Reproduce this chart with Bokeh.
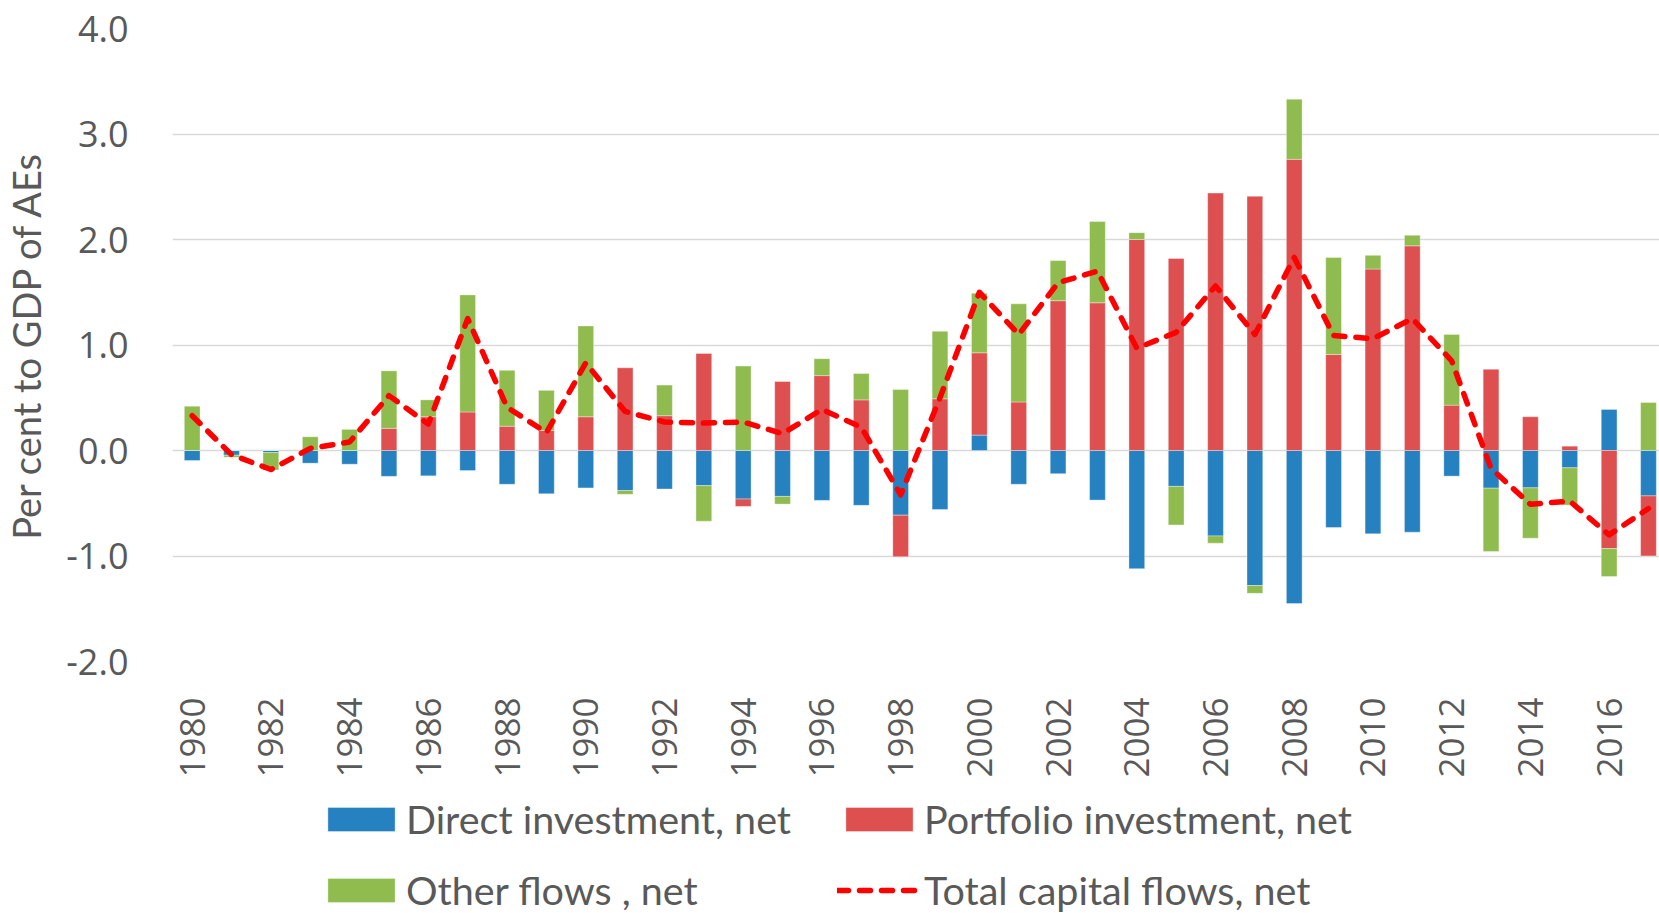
import math
from bokeh.plotting import figure
from bokeh.layouts import column
from bokeh.models import (ColumnDataSource, Range1d, FixedTicker, NumeralTickFormatter,
                          Legend, LegendItem)
from bokeh.embed import file_html
from bokeh.resources import INLINE

years = list(range(1980, 2018))
direct = [-0.095, -0.045, -0.02, -0.12, -0.13, -0.245, -0.24, -0.19, -0.32, -0.41,
          -0.355, -0.38, -0.365, -0.333, -0.46, -0.435, -0.473, -0.52, -0.613, -0.56,
          0.146, -0.32, -0.22, -0.47, -1.12, -0.34, -0.81, -1.28, -1.45, -0.73,
          -0.79, -0.774, -0.243, -0.357, -0.354, -0.164, 0.389, -0.43]
portfolio = [0.0, 0.0, 0.0, 0.0, 0.0, 0.21, 0.32, 0.365, 0.23, 0.19,
             0.32, 0.784, 0.33, 0.92, -0.07, 0.654, 0.71, 0.48, -0.394, 0.49,
             0.78, 0.46, 1.42, 1.40, 2.00, 1.82, 2.44, 2.41, 2.76, 0.91,
             1.72, 1.94, 0.43, 0.77, 0.32, 0.041, -0.93, -0.569]
other = [0.42, -0.02, -0.165, 0.13, 0.2, 0.545, 0.16, 1.11, 0.53, 0.38,
         0.86, -0.035, 0.29, -0.337, 0.8, -0.073, 0.16, 0.25, 0.578, 0.64,
         0.565, 0.93, 0.38, 0.77, 0.065, -0.365, -0.068, -0.074, 0.57, 0.92,
         0.13, 0.10, 0.67, -0.60, -0.477, -0.354, -0.265, 0.455]
total = [0.33, -0.04, -0.18, 0.02, 0.08, 0.52, 0.25, 1.25, 0.41, 0.17,
         0.83, 0.37, 0.27, 0.26, 0.27, 0.16, 0.39, 0.22, -0.42, 0.50,
         1.50, 1.10, 1.59, 1.70, 0.97, 1.12, 1.56, 1.10, 1.83, 1.09,
         1.06, 1.25, 0.85, -0.17, -0.51, -0.48, -0.80, -0.55]
year_ticks = list(range(1980, 2017, 2))
y_ticks = [-2, -1, 0, 1, 2, 3, 4]

series_names = ["Direct investment, net", "Portfolio investment, net", "Other flows , net"]
total_name = "Total capital flows, net"
series_vals = [direct, portfolio, other]
colors = ["#2681C1", "#DE5050", "#8FBB4F"]
LINE_COLOR = "#FF0000"
GRAY = "#595959"
TICK_FONT = "Open Sans"
LEG_FONT = "Lato"
BAR_STYLE = dict(line_color="white", line_alpha=0.35, line_width=1)
LINE_STYLE = dict(line_color=LINE_COLOR, line_width=5.5, line_dash="11 11",
                  line_cap="round", line_join="round")

p = figure(width=1659, height=790, output_backend="svg", toolbar_location=None,
           x_range=Range1d(1979.5, 2017.28), y_range=Range1d(-2, 4),
           min_border_left=170, min_border_right=0, min_border_top=28,
           min_border_bottom=129)
p.outline_line_color = None
p.xgrid.grid_line_color = None
p.ygrid.grid_line_color = "#D9D9D9"
p.ygrid.grid_line_width = 1.5
p.ygrid.ticker = FixedTicker(ticks=y_ticks)

# stacked bars: positives stack upward, negatives downward
pos_base = [0.0] * len(years)
neg_base = [0.0] * len(years)
sources = []
for name, vals, col in zip(series_names, series_vals, colors):
    bottoms, tops = [], []
    for i, v in enumerate(vals):
        if v >= 0:
            bottoms.append(pos_base[i]); tops.append(pos_base[i] + v); pos_base[i] += v
        else:
            bottoms.append(neg_base[i]); tops.append(neg_base[i] + v); neg_base[i] += v
    src = ColumnDataSource(dict(x=years, bottom=bottoms, top=tops))
    sources.append(src)
    p.vbar(x="x", bottom="bottom", top="top", width=0.4, source=src,
           fill_color=col, **BAR_STYLE)

line_src = ColumnDataSource(dict(x=years, y=total))
p.line(x="x", y="y", source=line_src, **LINE_STYLE)

# axes
for ax in (p.xaxis[0], p.yaxis[0]):
    ax.axis_line_color = None
    ax.major_tick_line_color = None
    ax.minor_tick_line_color = None
    ax.major_label_text_color = GRAY
    ax.major_label_text_font = TICK_FONT
    ax.major_label_text_font_size = "36px"

p.yaxis.ticker = FixedTicker(ticks=y_ticks)
p.yaxis.formatter = NumeralTickFormatter(format="0.0")
p.yaxis.major_label_standoff = 38
p.yaxis.axis_label = "Per cent to GDP of AEs"
p.yaxis.axis_label_text_font = LEG_FONT
p.yaxis.axis_label_text_font_size = "38px"
p.yaxis.axis_label_text_font_style = "normal"
p.yaxis.axis_label_text_color = GRAY
p.yaxis.axis_label_standoff = 14
p.xaxis.ticker = FixedTicker(ticks=year_ticks)
p.xaxis.major_label_orientation = math.pi / 2
p.xaxis.major_label_standoff = 30
p.xaxis.major_label_text_font_size = "35px"

# legend strip below the chart (its frame is aligned with the chart frame)
lg = figure(width=1659, height=123, output_backend="svg", toolbar_location=None,
            x_range=Range1d(0, 1), y_range=Range1d(0, 1),
            min_border_left=0, min_border_right=0, min_border_top=0, min_border_bottom=0)
lg.axis.visible = False
lg.grid.visible = False
lg.outline_line_color = None
# same data as the chart, outside this strip's visible range: only the legend shows
leg_renderers = [lg.vbar(x="x", bottom="bottom", top="top", width=0.4, source=s,
                         fill_color=c, **BAR_STYLE) for s, c in zip(sources, colors)]
leg_line = lg.line(x="x", y="y", source=line_src, **LINE_STYLE)

def make_legend(its, loc):
    return Legend(items=its, location=loc, orientation="vertical",
                  glyph_width=84, glyph_height=30, label_standoff=3,
                  spacing=24, label_height=40,
                  label_text_font=LEG_FONT, label_text_font_size="39.5px",
                  label_text_color=GRAY, border_line_color=None,
                  background_fill_alpha=0, padding=0, margin=0)

leg1 = make_legend([LegendItem(label=series_names[0], renderers=[leg_renderers[0]]),
                    LegendItem(label=series_names[2], renderers=[leg_renderers[2]])],
                   (147, 0))
leg2 = make_legend([LegendItem(label=series_names[1], renderers=[leg_renderers[1]]),
                    LegendItem(label=total_name, renderers=[leg_line])],
                   (665, 0))
lg.add_layout(leg1)
lg.add_layout(leg2)

layout = column(p, lg, spacing=0)
open("out.html", "w").write(file_html(layout, INLINE))
